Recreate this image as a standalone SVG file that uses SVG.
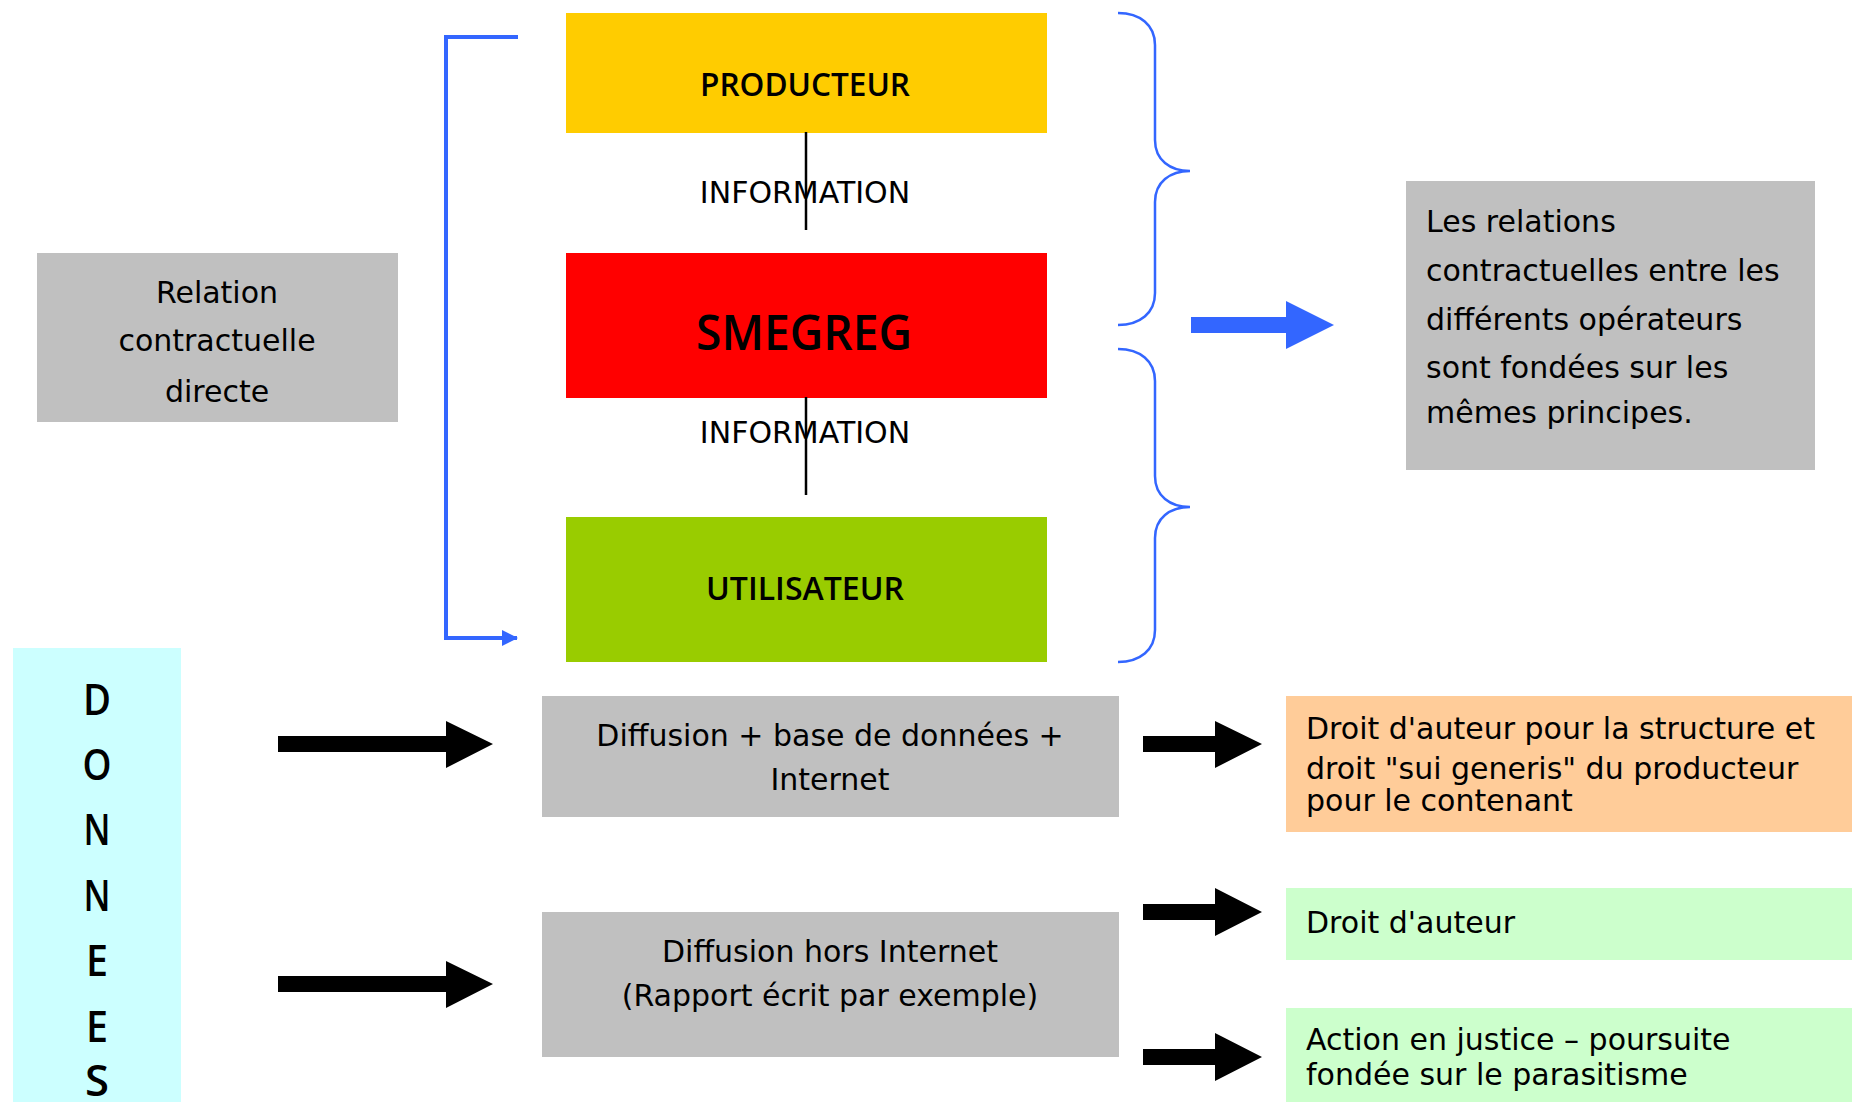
<svg xmlns="http://www.w3.org/2000/svg" width="1852" height="1102" viewBox="0 0 1852 1102">
<defs>
<style>
.t{font-family:"DejaVu Sans","Liberation Sans",sans-serif;font-size:30px;fill:#000}
.c{text-anchor:middle}
.b{font-family:"Open Sans","DejaVu Sans","Liberation Sans",sans-serif;font-weight:600;fill:#000;text-anchor:middle}
.blue{stroke:#3366FF;fill:none}
.blk{fill:#000}
</style>
<marker id="bh" viewBox="0 0 16 16" refX="15" refY="8" markerWidth="16" markerHeight="16" markerUnits="userSpaceOnUse" orient="auto">
<path d="M0,0 L16,8 L0,16 Z" fill="#3366FF"/>
</marker>
</defs>
<rect width="1852" height="1102" fill="#fff"/>

<g id="relation">
<rect x="37" y="253" width="361" height="169" fill="#C0C0C0"/>
<text class="t c" x="217" y="303">Relation</text>
<text class="t c" x="217" y="351">contractuelle</text>
<text class="t c" x="217" y="402">directe</text>
</g>

<g id="producteur">
<rect x="566" y="13" width="481" height="120" fill="#FFCC00"/>
<text class="b" x="805" y="96" font-size="32" textLength="210" lengthAdjust="spacingAndGlyphs">PRODUCTEUR</text>
</g>

<g id="smegreg">
<rect x="566" y="253" width="481" height="145" fill="#FF0000"/>
<text class="b" x="804" y="350" font-size="49" textLength="216" lengthAdjust="spacingAndGlyphs">SMEGREG</text>
</g>

<g id="utilisateur">
<rect x="566" y="517" width="481" height="145" fill="#99CC00"/>
<text class="b" x="805" y="600" font-size="32" textLength="198" lengthAdjust="spacingAndGlyphs">UTILISATEUR</text>
</g>

<g id="principes">
<rect x="1406" y="181" width="409" height="289" fill="#C0C0C0"/>
<text class="t" x="1426" y="232">Les relations</text>
<text class="t" x="1426" y="281">contractuelles entre les</text>
<text class="t" x="1426" y="330">différents opérateurs</text>
<text class="t" x="1426" y="378">sont fondées sur les</text>
<text class="t" x="1426" y="423">mêmes principes.</text>
</g>

<g id="donnees">
<rect x="13" y="648" width="168" height="454" fill="#CCFFFF"/>
<g class="b" font-size="43">
<text x="97" y="715" textLength="28" lengthAdjust="spacingAndGlyphs">D</text>
<text x="97" y="780" textLength="29" lengthAdjust="spacingAndGlyphs">O</text>
<text x="97" y="845" textLength="27" lengthAdjust="spacingAndGlyphs">N</text>
<text x="97" y="911" textLength="27" lengthAdjust="spacingAndGlyphs">N</text>
<text x="97" y="976" textLength="22" lengthAdjust="spacingAndGlyphs">E</text>
<text x="97" y="1042" textLength="22" lengthAdjust="spacingAndGlyphs">E</text>
<text x="97" y="1096" textLength="24" lengthAdjust="spacingAndGlyphs">S</text>
</g>
</g>

<g id="diffusion-internet">
<rect x="542" y="696" width="577" height="121" fill="#C0C0C0"/>
<text class="t c" x="830" y="746">Diffusion + base de données +</text>
<text class="t c" x="830" y="790">Internet</text>
</g>

<g id="diffusion-hors">
<rect x="542" y="912" width="577" height="145" fill="#C0C0C0"/>
<text class="t c" x="830" y="962">Diffusion hors Internet</text>
<text class="t c" x="830" y="1006">(Rapport écrit par exemple)</text>
</g>

<g id="droit-structure">
<rect x="1286" y="696" width="566" height="136" fill="#FFCC99"/>
<text class="t" x="1306" y="739">Droit d'auteur pour la structure et</text>
<text class="t" x="1306" y="779">droit "sui generis" du producteur</text>
<text class="t" x="1306" y="811">pour le contenant</text>
</g>

<g id="droit-auteur">
<rect x="1286" y="888" width="566" height="72" fill="#CCFFCC"/>
<text class="t" x="1306" y="933">Droit d'auteur</text>
</g>

<g id="action-justice">
<rect x="1286" y="1008" width="566" height="94" fill="#CCFFCC"/>
<text class="t" x="1306" y="1050">Action en justice – poursuite</text>
<text class="t" x="1306" y="1085">fondée sur le parasitisme</text>
</g>

<g id="connectors">
<line x1="806" y1="132" x2="806" y2="230" stroke="#000" stroke-width="2.5"/>
<line x1="806" y1="397" x2="806" y2="495" stroke="#000" stroke-width="2.5"/>
<text class="t c" x="805" y="203">INFORMATION</text>
<text class="t c" x="805" y="443">INFORMATION</text>
<path class="blue" stroke-width="4" d="M518,37 H446 V638 H517" marker-end="url(#bh)"/>
<path class="blue" stroke-width="2.5" d="M1118,13 C1140,13 1155,25 1155,45 V140 C1155,160 1170,171 1190,171 C1170,171 1155,182 1155,202 V293 C1155,313 1140,325 1118,325"/>
<path class="blue" stroke-width="2.5" d="M1118,349 C1140,349 1155,361 1155,381 V476 C1155,496 1170,507 1190,507 C1170,507 1155,518 1155,538 V630 C1155,650 1140,662 1118,662"/>
<polygon fill="#3366FF" points="1191,317 1286,317 1286,301 1334,325 1286,349 1286,333 1191,333"/>
<polygon class="blk" points="278,736 446,736 446,721 493,744 446,768 446,752 278,752"/>
<polygon class="blk" points="278,976 446,976 446,961 493,984 446,1008 446,992 278,992"/>
<polygon class="blk" points="1143,736 1215,736 1215,721 1262,744 1215,768 1215,752 1143,752"/>
<polygon class="blk" points="1143,904 1215,904 1215,888 1262,912 1215,936 1215,920 1143,920"/>
<polygon class="blk" points="1143,1049 1215,1049 1215,1033 1262,1057 1215,1081 1215,1065 1143,1065"/>
</g>
</svg>
